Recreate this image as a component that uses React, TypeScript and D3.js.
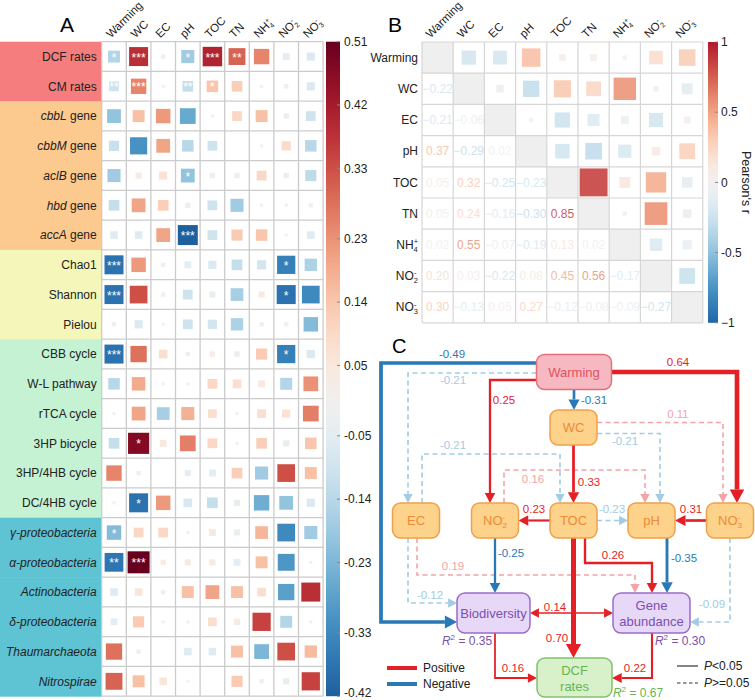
import React from 'react';
import * as d3 from 'd3';

const FONT = "'Liberation Sans', Arial, Helvetica, sans-serif";

// ---------- Panel A: correlations of response variables with soil factors
const envVars = ['Warming', 'WC', 'EC', 'pH', 'TOC', 'TN', 'NH4+', 'NO2-', 'NO3-'];

const rowNamesA = [
  'DCF rates', 'CM rates',
  'cbbL gene', 'cbbM gene', 'aclB gene', 'hbd gene', 'accA gene',
  'Chao1', 'Shannon', 'Pielou',
  'CBB cycle', 'W-L pathway', 'rTCA cycle', '3HP bicycle', '3HP/4HB cycle', 'DC/4HB cycle',
  'γ-proteobacteria', 'α-proteobacteria', 'Actinobacteria', 'δ-proteobacteria', 'Thaumarchaeota', 'Nitrospirae',
];
const rowGroupsA = [
  'rate', 'rate',
  'gene', 'gene', 'gene', 'gene', 'gene',
  'diversity', 'diversity', 'diversity',
  'pathway', 'pathway', 'pathway', 'pathway', 'pathway', 'pathway',
  'taxa', 'taxa', 'taxa', 'taxa', 'taxa', 'taxa',
];

// columns follow envVars
const corrA = [
  [-0.15, 0.38, 0.02, -0.18, 0.40, 0.30, 0.25, -0.05, -0.07],
  [-0.10, 0.25, 0.01, -0.12, 0.14, 0.12, 0.01, -0.02, -0.07],
  [-0.20, 0.15, 0.22, -0.26, 0.01, 0.10, 0.15, -0.03, -0.10],
  [-0.11, -0.31, 0.20, -0.14, -0.10, 0.0, 0.01, 0.09, -0.14],
  [-0.18, 0.04, 0.07, -0.20, -0.03, -0.03, 0.10, -0.03, -0.13],
  [-0.12, 0.20, 0.12, -0.03, -0.10, -0.18, -0.01, 0.01, -0.02],
  [-0.06, -0.06, 0.20, -0.42, -0.10, 0.13, 0.14, -0.01, -0.06],
  [-0.38, 0.22, 0.02, -0.05, -0.07, -0.12, -0.09, -0.35, -0.16],
  [-0.38, 0.33, -0.02, -0.10, -0.04, -0.17, 0.04, -0.38, -0.33],
  [0.02, -0.07, 0.01, -0.10, -0.09, -0.16, 0.02, -0.02, -0.22],
  [-0.38, 0.28, 0.08, -0.02, 0.03, -0.03, 0.13, -0.35, -0.07],
  [-0.14, 0.19, 0.01, 0.01, 0.10, 0.08, 0.05, -0.15, 0.23],
  [0.01, 0.20, -0.17, 0.18, 0.08, 0.01, 0.08, 0.07, 0.26],
  [-0.12, 0.47, 0.05, 0.26, 0.10, 0.01, 0.12, -0.04, 0.14],
  [0.25, 0.02, 0.0, -0.04, -0.05, 0.12, -0.18, 0.33, 0.15],
  [0.01, -0.38, 0.22, -0.08, -0.12, -0.04, -0.25, -0.20, -0.07],
  [-0.22, 0.10, 0.10, 0.01, 0.05, -0.04, 0.17, -0.33, -0.18],
  [-0.37, 0.51, 0.03, 0.04, 0.04, -0.05, 0.15, -0.30, 0.01],
  [-0.06, 0.06, -0.02, 0.15, 0.20, 0.15, 0.08, -0.28, 0.38],
  [-0.05, 0.13, 0.01, 0.01, 0.08, 0.04, 0.35, -0.15, 0.01],
  [0.28, 0.02, 0.0, -0.06, -0.06, 0.15, -0.23, 0.33, 0.16],
  [0.30, 0.15, 0.06, 0.01, 0.0, 0.13, 0.02, -0.04, 0.35],
];

// [row, column, significance stars]
const sigA: [string, string, string][] = [
  ['DCF rates', 'Warming', '*'], ['DCF rates', 'WC', '***'], ['DCF rates', 'pH', '*'],
  ['DCF rates', 'TOC', '***'], ['DCF rates', 'TN', '**'],
  ['CM rates', 'Warming', '**'], ['CM rates', 'WC', '***'], ['CM rates', 'pH', '**'], ['CM rates', 'TOC', '*'],
  ['aclB gene', 'pH', '*'], ['accA gene', 'pH', '***'],
  ['Chao1', 'Warming', '***'], ['Chao1', 'NO2-', '*'],
  ['Shannon', 'Warming', '***'], ['Shannon', 'NO2-', '*'],
  ['CBB cycle', 'Warming', '***'], ['CBB cycle', 'NO2-', '*'],
  ['3HP bicycle', 'WC', '*'], ['DC/4HB cycle', 'WC', '*'],
  ['γ-proteobacteria', 'Warming', '*'],
  ['α-proteobacteria', 'Warming', '**'], ['α-proteobacteria', 'WC', '***'],
];
const ticksA = [0.51, 0.42, 0.33, 0.23, 0.14, 0.05, -0.05, -0.14, -0.23, -0.33, -0.42];

// ---------- Panel B: Pearson's r among soil factors
const corrB = [
  [1, -0.22, -0.21, 0.37, 0.05, 0.05, 0.02, 0.20, 0.30],
  [-0.22, 1, -0.06, -0.29, 0.32, 0.24, 0.55, 0.03, -0.13],
  [-0.21, -0.06, 1, 0.02, -0.25, -0.16, -0.07, -0.22, 0.05],
  [0.37, -0.29, 0.02, 1, -0.23, -0.30, -0.19, 0.08, 0.27],
  [0.05, 0.32, -0.25, -0.23, 1, 0.85, 0.13, 0.45, -0.12],
  [0.05, 0.24, -0.16, -0.30, 0.85, 1, 0.02, 0.56, -0.08],
  [0.02, 0.55, -0.07, -0.19, 0.13, 0.02, 1, -0.17, -0.09],
  [0.20, 0.03, -0.22, 0.08, 0.45, 0.56, -0.17, 1, -0.27],
  [0.30, -0.13, 0.05, 0.27, -0.12, -0.08, -0.09, -0.27, 1],
];
const ticksB = [1, 0.5, 0, -0.5, -1];
const paletteB = ['#b2182b', '#d6604d', '#f4a582', '#fddbc7', '#f7f7f7', '#d1e5f0', '#92c5de', '#4393c3', '#2166ac'];

// ---------- Panel C: structural equation model
const pathFrom = ['Warming', 'Warming', 'Warming', 'Warming', 'Warming', 'WC', 'WC', 'EC', 'NO2-', 'WC', 'TOC', 'TOC',
  'NO3-', 'NO2-', 'TOC', 'pH', 'EC', 'EC', 'Biodiversity', 'NO3-', 'TOC', 'Biodiversity', 'Gene abundance'];
const pathTo = ['Biodiversity', 'NO3-', 'EC', 'NO2-', 'WC', 'NO3-', 'pH', 'TOC', 'pH', 'TOC', 'NO2-', 'pH',
  'pH', 'Biodiversity', 'Gene abundance', 'Gene abundance', 'Gene abundance', 'Biodiversity', 'Gene abundance',
  'Gene abundance', 'DCF rates', 'DCF rates', 'DCF rates'];
const pathCoef = [-0.49, 0.64, -0.21, 0.25, -0.31, 0.11, -0.21, -0.21, 0.16, 0.33, 0.23, -0.23,
  0.31, -0.25, 0.26, -0.35, 0.19, -0.12, 0.14, -0.09, 0.70, 0.16, 0.22];
const pathSig = [true, true, false, true, true, false, false, false, false, true, true, false,
  true, true, true, true, false, false, true, false, true, true, true];
const r2Nodes = ['Biodiversity', 'Gene abundance', 'DCF rates'];
const r2Values = [0.35, 0.30, 0.67];

const fmt2 = d3.format('.2f');
const signed = (v: number) => fmt2(v).replace('-', '−');

// chemical names with stacked sub/superscripts
function Chem({ name, size }: { name: string; size: number }) {
  const m = name.match(/^(NH|NO)(\d)([+-])$/);
  if (!m) return <>{name}</>;
  const s = size * 0.62;
  return (
    <>
      <tspan>{m[1]}</tspan>
      <tspan fontSize={s} dy={size * 0.22}>{m[2]}</tspan>
      <tspan fontSize={s} dx={-s * 0.55} dy={-size * 0.62}>{m[3]}</tspan>
    </>
  );
}

function gradientStops(domain: [number, number], color: (v: number) => string) {
  return d3.range(0, 1.0001, 0.05).map((t) => (
    <stop key={t} offset={`${t * 100}%`} stopColor={color(domain[0] + (domain[1] - domain[0]) * t)} />
  ));
}

// ---------- Panel A
const groupFill: Record<string, string> = {
  rate: '#f57d7d', gene: '#fcc98e', diversity: '#f5f7ba', pathway: '#c5f2d3', taxa: '#5ec3d2',
};

function rowLabel(name: string, group: string) {
  if (group === 'gene') {
    const [g, rest] = name.split(' ');
    return <><tspan fontStyle="italic">{g}</tspan>{' ' + rest}</>;
  }
  if (group === 'taxa') return <tspan fontStyle="italic">{name}</tspan>;
  return name;
}

function PanelA() {
  const x0 = 101.7, y0 = 41.7, cw = 24.6, ch = 29.75;
  const x = d3.scaleBand().domain(envVars).range([x0, x0 + cw * envVars.length]);
  const y = d3.scaleBand().domain(rowNamesA).range([y0, y0 + ch * rowNamesA.length]);
  const color = d3.scaleSequential(d3.interpolateRdBu).domain([0.51, -0.51]);
  const side = d3.scaleSqrt().domain([0, 0.51]).range([0, 22]);
  const barY = d3.scaleLinear().domain([0.51, -0.42]).range([y0, y0 + ch * rowNamesA.length]);
  const [gx0, gx1] = x.range();
  const [gy0, gy1] = y.range();

  return (
    <g>
      <text x={60} y={32} fontSize={21}>A</text>
      {rowNamesA.map((r, i) => (
        <g key={r}>
          <rect x={0} y={y(r)!} width={gx0} height={y.bandwidth() + 0.5} fill={groupFill[rowGroupsA[i]]} />
          <text x={gx0 - 5} y={y(r)! + y.bandwidth() / 2} dy="0.35em" textAnchor="end" fontSize={12} fill="#222">
            {rowLabel(r, rowGroupsA[i])}
          </text>
        </g>
      ))}
      <rect x={gx0} y={gy0} width={gx1 - gx0} height={gy1 - gy0} fill="#fff" />
      {envVars.map((v) => (
        <text key={v} transform={`translate(${x(v)! + x.bandwidth() / 2 - 3},38.5) rotate(-45)`} fontSize={11.5} fill="#222">
          <Chem name={v} size={11.5} />
        </text>
      ))}
      {rowNamesA.map((r, i) => envVars.map((v, j) => {
        const val = corrA[i][j];
        const s = side(Math.abs(val));
        const cx = x(v)! + x.bandwidth() / 2, cy = y(r)! + y.bandwidth() / 2;
        return <rect key={r + v} x={cx - s / 2} y={cy - s / 2} width={s} height={s} fill={color(val)} />;
      }))}
      {sigA.map(([r, v, st]) => (
        <text key={r + v} x={x(v)! + x.bandwidth() / 2} y={y(r)! + y.bandwidth() / 2 + 5} textAnchor="middle"
          fontSize={12} fill="#fff">{st}</text>
      ))}
      {d3.range(envVars.length + 1).map((k) => (
        <line key={'v' + k} x1={gx0 + k * x.step()} x2={gx0 + k * x.step()} y1={gy0} y2={gy1} stroke="#cbcbcb" strokeWidth={1.3} />
      ))}
      {d3.range(rowNamesA.length + 1).map((k) => (
        <line key={'h' + k} x1={gx0} x2={gx1} y1={gy0 + k * y.step()} y2={gy0 + k * y.step()} stroke="#cbcbcb" strokeWidth={1.3} />
      ))}
      <defs>
        <linearGradient id="gradA" x1="0" y1="0" x2="0" y2="1">
          {gradientStops([0.51, -0.42], (v) => color(v))}
        </linearGradient>
      </defs>
      <rect x={326} y={barY(0.51)} width={14} height={barY(-0.42) - barY(0.51)} fill="url(#gradA)" />
      {ticksA.map((t, i) => (
        <g key={t}>
          <line x1={337} x2={340} y1={barY(t)} y2={barY(t)} stroke="#888" />
          <text x={344} y={barY(t) - (i === ticksA.length - 1 ? 3 : 0)} dy="0.35em" fontSize={12} fill="#222">{t.toFixed(2)}</text>
        </g>
      ))}
    </g>
  );
}

// ---------- Panel B
function PanelB() {
  const x0 = 422, y0 = 42, c = 31.2;
  const band = d3.scaleBand().domain(envVars).range([0, c * envVars.length]);
  const color = d3.scaleSequential(d3.interpolateRgbBasis(paletteB)).domain([1, -1]);
  const side = d3.scaleSqrt().domain([0, 1]).range([0, c * 0.97]);
  const barY = d3.scaleLinear().domain([1, -1]).range([y0, y0 + c * envVars.length]);
  const n = envVars.length;
  return (
    <g>
      <text x={388} y={32} fontSize={21}>B</text>
      {envVars.map((v) => (
        <text key={v} transform={`translate(${x0 + band(v)! + c / 2 - 7},38.5) rotate(-45)`} fontSize={11.5} fill="#222">
          <Chem name={v} size={11.5} />
        </text>
      ))}
      {envVars.map((v) => (
        <text key={v} x={x0 - 4} y={y0 + band(v)! + c / 2} dy="0.35em" textAnchor="end" fontSize={12} fill="#222">
          <Chem name={v} size={12} />
        </text>
      ))}
      {envVars.map((rv, i) => envVars.map((cv, j) => {
        const r = corrB[i][j];
        const cx = x0 + band(cv)! + c / 2, cy = y0 + band(rv)! + c / 2;
        if (i === j) return <rect key={i + '-' + j} x={cx - c / 2} y={cy - c / 2} width={c} height={c} fill="#efefef" />;
        if (j > i) {
          const s = side(Math.abs(r));
          return <rect key={i + '-' + j} x={cx - s / 2} y={cy - s / 2} width={s} height={s} fill={color(r)} opacity={0.9} />;
        }
        return (
          <text key={i + '-' + j} x={cx} y={cy} dy="0.35em" textAnchor="middle" fontSize={12} fill={color(r)} opacity={0.85}>
            {signed(r)}
          </text>
        );
      }))}
      {d3.range(n + 1).map((k) => (
        <g key={k}>
          <line x1={x0 + k * c} x2={x0 + k * c} y1={y0} y2={y0 + n * c} stroke="#d6d6d6" strokeWidth={1.2} />
          <line x1={x0} x2={x0 + n * c} y1={y0 + k * c} y2={y0 + k * c} stroke="#d6d6d6" strokeWidth={1.2} />
        </g>
      ))}
      <defs>
        <linearGradient id="gradB" x1="0" y1="0" x2="0" y2="1">
          {gradientStops([1, -1], (v) => color(v))}
        </linearGradient>
      </defs>
      <rect x={708} y={barY(1)} width={10} height={barY(-1) - barY(1)} fill="url(#gradB)" />
      {ticksB.map((t) => (
        <g key={t}>
          <line x1={715} x2={718} y1={barY(t)} y2={barY(t)} stroke="#888" />
          <text x={721} y={barY(t)} dy="0.35em" fontSize={12} fill="#222">{t === -1 ? '−1' : t === -0.5 ? '-0.5' : String(t)}</text>
        </g>
      ))}
      <text transform={`translate(742,${barY(0)}) rotate(90)`} textAnchor="middle" fontSize={12.5} fill="#222">Pearson's r</text>
    </g>
  );
}

// ---------- Panel C
type Box = { cx: number; cy: number; w: number; h: number; kind: string };
const boxC: Record<string, Box> = {
  'Warming': { cx: 574, cy: 372, w: 75, h: 35, kind: 'driver' },
  'WC': { cx: 573.5, cy: 427.5, w: 47, h: 35, kind: 'env' },
  'EC': { cx: 416, cy: 520.5, w: 47, h: 35, kind: 'env' },
  'NO2-': { cx: 495, cy: 520.5, w: 47, h: 35, kind: 'env' },
  'TOC': { cx: 573.5, cy: 520.5, w: 47, h: 35, kind: 'env' },
  'pH': { cx: 651.5, cy: 520.5, w: 47, h: 35, kind: 'env' },
  'NO3-': { cx: 730, cy: 520.5, w: 47, h: 35, kind: 'env' },
  'Biodiversity': { cx: 493.5, cy: 613, w: 73, h: 40, kind: 'bio' },
  'Gene abundance': { cx: 651.5, cy: 613, w: 77, h: 40, kind: 'bio' },
  'DCF rates': { cx: 574.5, cy: 677.5, w: 75, h: 39, kind: 'out' },
};
const nodeStyle: Record<string, { fill: string; stroke: string; text: string }> = {
  driver: { fill: '#f6b9c1', stroke: '#e4707c', text: '#e0525f' },
  env: { fill: '#fdd28b', stroke: '#f0a04a', text: '#ee8a35' },
  bio: { fill: '#e8d8f7', stroke: '#9a6bc8', text: '#7a4fae' },
  out: { fill: '#d8f1cb', stroke: '#80c26d', text: '#66b553' },
};

type Pt = [number, number];
const L = (n: string, d = 0): Pt => [boxC[n].cx - boxC[n].w / 2, boxC[n].cy + d];
const R = (n: string, d = 0): Pt => [boxC[n].cx + boxC[n].w / 2, boxC[n].cy + d];
const T = (n: string, d = 0): Pt => [boxC[n].cx + d, boxC[n].cy - boxC[n].h / 2];
const B = (n: string, d = 0): Pt => [boxC[n].cx + d, boxC[n].cy + boxC[n].h / 2];

// orthogonal routing lanes of the diagram
const routes: Record<string, Pt[]> = {
  'Warming>Biodiversity': [L('Warming', -9), [381, 363], [381, 622], L('Biodiversity', 9)],
  'Warming>NO3-': [R('Warming', 0), [737, 372], T('NO3-', 7)],
  'Warming>EC': [L('Warming', 1), [408, 373], T('EC', -8)],
  'Warming>NO2-': [L('Warming', 8), [490, 380], T('NO2-', -5)],
  'Warming>WC': [B('Warming', 0), T('WC', 0.5)],
  'WC>NO3-': [R('WC', -5), [723, 422.5], T('NO3-', -7)],
  'WC>pH': [R('WC', 6), [660, 433.5], T('pH', 8.5)],
  'EC>TOC': [T('EC', 6), [422, 454], [560, 454], T('TOC', -13.5)],
  'NO2->pH': [T('NO2-', 9), [504, 470], [645, 470], T('pH', -6.5)],
  'WC>TOC': [B('WC', 0), T('TOC', 0)],
  'TOC>NO2-': [L('TOC'), R('NO2-')],
  'TOC>pH': [R('TOC'), L('pH')],
  'NO3->pH': [L('NO3-'), R('pH')],
  'NO2->Biodiversity': [B('NO2-', 0), T('Biodiversity', 1.5)],
  'TOC>Gene abundance': [B('TOC', 11.5), [585, 563], [652, 563], T('Gene abundance', 0.5)],
  'pH>Gene abundance': [B('pH', 15.5), T('Gene abundance', 15.5)],
  'EC>Gene abundance': [B('EC', 1), [417, 575], [635, 575], T('Gene abundance', -16.5)],
  'EC>Biodiversity': [B('EC', -8), [408, 603], L('Biodiversity', -10)],
  'Biodiversity>Gene abundance': [R('Biodiversity'), L('Gene abundance')],
  'NO3->Gene abundance': [B('NO3-', 0), [730, 622], R('Gene abundance', 9)],
  'TOC>DCF rates': [B('TOC', 0), T('DCF rates', -1)],
  'Biodiversity>DCF rates': [B('Biodiversity', 1.5), [495, 678], L('DCF rates', 0.5)],
  'Gene abundance>DCF rates': [B('Gene abundance', 0.5), [652, 678], R('DCF rates', 0.5)],
};
const labelAt: Record<string, Pt> = {
  'Warming>Biodiversity': [452, 358], 'Warming>NO3-': [678, 366], 'Warming>EC': [453, 384],
  'Warming>NO2-': [504, 404], 'Warming>WC': [594, 404], 'WC>NO3-': [678, 418], 'WC>pH': [625, 445],
  'EC>TOC': [453, 449], 'NO2->pH': [533, 483], 'WC>TOC': [589, 486], 'TOC>NO2-': [534, 513],
  'TOC>pH': [612, 513], 'NO3->pH': [691, 513], 'NO2->Biodiversity': [511, 557],
  'TOC>Gene abundance': [613, 559], 'pH>Gene abundance': [684, 562], 'EC>Gene abundance': [453, 570],
  'EC>Biodiversity': [430, 599], 'Biodiversity>Gene abundance': [555, 611], 'NO3->Gene abundance': [712, 608],
  'TOC>DCF rates': [557, 642], 'Biodiversity>DCF rates': [513, 672], 'Gene abundance>DCF rates': [635, 672],
};
const r2At: Record<string, Pt> = { 'Biodiversity': [467, 645], 'Gene abundance': [680, 645], 'DCF rates': [638, 697] };

function edgeColor(c: number, sig: boolean) {
  if (sig) return c > 0 ? '#e41f25' : '#2a79b7';
  return c > 0 ? '#f4a3a7' : '#a2cbe4';
}

function arrowHead(p: Pt, q: Pt, w: number): { poly: string; base: Pt } {
  const len = 6.5 + 1.5 * w, half = 3.3 + 0.85 * w;
  const dx = q[0] - p[0], dy = q[1] - p[1];
  const d = Math.hypot(dx, dy) || 1;
  const ux = dx / d, uy = dy / d;
  const base: Pt = [q[0] - ux * len, q[1] - uy * len];
  const a: Pt = [base[0] - uy * half, base[1] + ux * half];
  const b: Pt = [base[0] + uy * half, base[1] - ux * half];
  return { poly: [q, a, b].map((z) => z.join(',')).join(' '), base };
}

function Edge({ from, to, coef, sig }: { from: string; to: string; coef: number; sig: boolean }) {
  const key = `${from}>${to}`;
  const pts = routes[key].map((p) => [...p] as Pt);
  const w = sig ? 0.8 + 6 * Math.abs(coef) : 1.6;
  const col = edgeColor(coef, sig);
  const double = from === 'Biodiversity' && to === 'Gene abundance';
  const end = arrowHead(pts[pts.length - 2], pts[pts.length - 1], w);
  pts[pts.length - 1] = end.base;
  let start: { poly: string; base: Pt } | null = null;
  if (double) {
    start = arrowHead(pts[1], pts[0], w);
    pts[0] = start.base;
  }
  const line = d3.line<Pt>()(pts) || '';
  const lab = labelAt[key];
  return (
    <g>
      <path d={line} fill="none" stroke={col} strokeWidth={w} strokeDasharray={sig ? undefined : '5,3.5'} strokeLinejoin="miter" />
      <polygon points={end.poly} fill={col} />
      {start && <polygon points={start.poly} fill={col} />}
      <text x={lab[0]} y={lab[1]} textAnchor="middle" fontSize={11.5} fill={col}>{signed(coef).replace('−', '-')}</text>
    </g>
  );
}

function Node({ name }: { name: string }) {
  const b = boxC[name];
  const st = nodeStyle[b.kind];
  const words = name === 'Gene abundance' ? ['Gene', 'abundance'] : name === 'DCF rates' ? ['DCF', 'rates'] : [name];
  return (
    <g>
      <rect x={b.cx - b.w / 2} y={b.cy - b.h / 2} width={b.w} height={b.h} rx={8} fill={st.fill} stroke={st.stroke} strokeWidth={1.5} />
      {words.length === 1 ? (
        <text x={b.cx} y={b.cy} dy="0.35em" textAnchor="middle" fontSize={13} fill={st.text}>
          <Chem name={name} size={13} />
        </text>
      ) : (
        <text x={b.cx} y={b.cy} textAnchor="middle" fontSize={13} fill={st.text}>
          <tspan x={b.cx} dy="-0.2em">{words[0]}</tspan>
          <tspan x={b.cx} dy="1.2em">{words[1]}</tspan>
        </text>
      )}
    </g>
  );
}

function PanelC() {
  const order = d3.range(pathFrom.length).sort((a, b) => Number(pathSig[a]) - Number(pathSig[b]) || Math.abs(pathCoef[a]) - Math.abs(pathCoef[b]));
  return (
    <g>
      <text x={392} y={353} fontSize={20}>C</text>
      {order.map((i) => (
        <Edge key={i} from={pathFrom[i]} to={pathTo[i]} coef={pathCoef[i]} sig={pathSig[i]} />
      ))}
      {Object.keys(boxC).map((n) => <Node key={n} name={n} />)}
      {r2Nodes.map((n, i) => (
        <text key={n} x={r2At[n][0]} y={r2At[n][1]} textAnchor="middle" fontSize={12} fill={nodeStyle[boxC[n].kind].text}>
          <tspan fontStyle="italic">R</tspan>
          <tspan fontSize={8} dy={-5}>2</tspan>
          <tspan dy={5}>{` = ${fmt2(r2Values[i])}`}</tspan>
        </text>
      ))}
      <line x1={387} x2={417} y1={668} y2={668} stroke="#e41f25" strokeWidth={4} />
      <text x={423} y={672} fontSize={12} fill="#222">Positive</text>
      <line x1={387} x2={417} y1={684} y2={684} stroke="#2a79b7" strokeWidth={4} />
      <text x={423} y={688} fontSize={12} fill="#222">Negative</text>
      <line x1={677} x2={698} y1={666} y2={666} stroke="#333" strokeWidth={1.2} />
      <text x={704} y={670} fontSize={12} fill="#222"><tspan fontStyle="italic">P</tspan>{'<0.05'}</text>
      <line x1={677} x2={698} y1={683} y2={683} stroke="#333" strokeWidth={1.2} strokeDasharray="3.5,2.5" />
      <text x={704} y={687} fontSize={12} fill="#222"><tspan fontStyle="italic">P</tspan>{'>=0.05'}</text>
    </g>
  );
}

export default function App() {
  return (
    <div style={{ position: 'absolute', left: 0, top: 0 }}>
      <svg width={755} height={700} fontFamily={FONT} style={{ display: 'block', background: '#fff' }}>
        <PanelA />
        <PanelB />
        <PanelC />
      </svg>
    </div>
  );
}
